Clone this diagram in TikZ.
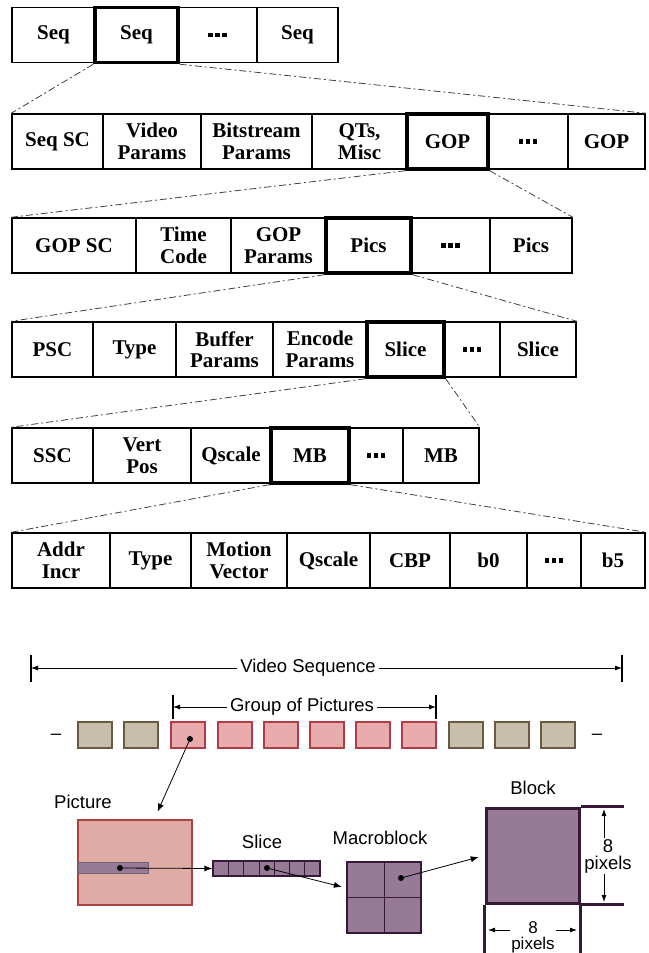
\documentclass[tikz,border=0pt]{standalone}
\usepackage{fontspec}
\setmainfont{Liberation Serif}
\setsansfont{Liberation Sans}
\usepackage{tikz}
\usetikzlibrary{arrows.meta, positioning, calc}
\definecolor{tanfill}{RGB}{200,190,172}
\definecolor{tandraw}{RGB}{105,90,65}
\definecolor{pinkfill}{RGB}{232,172,172}
\definecolor{pinkdraw}{RGB}{175,60,70}
\definecolor{picfill}{RGB}{222,172,165}
\definecolor{picdraw}{RGB}{175,65,65}
\definecolor{mbfill}{RGB}{150,122,150}
\definecolor{mbdraw}{RGB}{55,25,55}
\newcommand{\celldots}{\rule{4.5pt}{4.5pt}\hspace{2.5pt}\rule{4.5pt}{4.5pt}\hspace{2.5pt}\rule{4.5pt}{4.5pt}}
\tikzset{
  cell/.style={rectangle, draw=black, fill=white, line width=1.5pt,
    inner sep=0pt, minimum height=55pt, align=center,
    font=\fontsize{21}{21.5}\selectfont\bfseries},
  boldcell/.style={cell, line width=3.5pt},
  zoomline/.style={line width=0.8pt, color=black!75,
    dash pattern=on 7pt off 3pt on 2pt off 3pt},
  lbl/.style={font=\fontsize{18.5}{17}\selectfont\sffamily, inner sep=3pt},
  dimlbl/.style={lbl, fill=white, align=center, inner sep=1pt},
  dimbar/.style={line width=1.2pt, color=black},
  dimarrow/.style={-{Latex[length=7pt,width=5pt]}, line width=0.8pt},
  ptr/.style={-{Latex[length=8pt,width=6pt]}, line width=0.8pt},
  tanbox/.style={rectangle, fill=tanfill, draw=tandraw, line width=2pt,
    minimum width=34pt, minimum height=26pt, inner sep=0pt},
  pinkbox/.style={tanbox, fill=pinkfill, draw=pinkdraw},
  dot/.style={circle, fill=black, inner sep=0pt, minimum size=6pt},
  mbbox/.style={rectangle, fill=mbfill, draw=mbdraw, line width=2.5pt,
    inner sep=0pt}
}

\begin{document}
\begin{tikzpicture}[x=1pt, y=-1pt]
  \path[use as bounding box, fill=white] (0,0) rectangle (648,953);

  % ── Sequence layer ────────────────────────────────────────────────
  \node[cell, minimum width=83pt] (seqa)    at (53.5,35)  {Seq};
  \node[cell, minimum width=79pt] (seqdots) at (217.5,35) {\celldots};
  \node[cell, minimum width=81pt] (seqn)    at (297.5,35) {Seq};
  \node[boldcell, minimum width=83pt] (seqb) at (136.5,35) {Seq};

  % ── Sequence header layer ─────────────────────────────────────────
  \node[cell, minimum width=91pt]  (seqsc)   at (57.5,141.5)  {Seq SC};
  \node[cell, minimum width=98pt]  (vidpar)  at (152,141.5)   {Video\\Params};
  \node[cell, minimum width=111pt] (bitpar)  at (256.5,141.5) {Bitstream\\Params};
  \node[cell, minimum width=95pt]  (qtmisc)  at (359.5,141.5) {QTs,\\Misc};
  \node[cell, minimum width=80pt]  (gopdots) at (528,141.5)   {\celldots};
  \node[cell, minimum width=77pt]  (gopn)    at (606.5,141.5) {GOP};
  \node[boldcell, minimum width=81pt] (gop)  at (447.5,141.5) {GOP};
  \draw[zoomline] (seqb.south west) -- (seqsc.north west);
  \draw[zoomline] (seqb.south east) -- (gopn.north east);

  % ── GOP layer ─────────────────────────────────────────────────────
  \node[cell, minimum width=124pt] (gopsc)   at (74,245.5)    {GOP SC};
  \node[cell, minimum width=95pt]  (tcode)   at (183.5,245.5) {Time\\Code};
  \node[cell, minimum width=95pt]  (goppar)  at (278.5,245.5) {GOP\\Params};
  \node[cell, minimum width=79pt]  (picdots) at (450.5,245.5) {\celldots};
  \node[cell, minimum width=82pt]  (picn)    at (531,245.5)   {Pics};
  \node[boldcell, minimum width=85pt] (pics) at (368.5,245.5) {Pics};
  \draw[zoomline] (gop.south west) -- (gopsc.north west);
  \draw[zoomline] (gop.south east) -- (picn.north east);

  % ── Picture layer ─────────────────────────────────────────────────
  \node[cell, minimum width=81pt] (psc)     at (52.5,349.5)  {PSC};
  \node[cell, minimum width=83pt] (ptype)   at (134.5,349.5) {Type};
  \node[cell, minimum width=97pt] (bufpar)  at (224.5,349.5) {Buffer\\Params};
  \node[cell, minimum width=94pt] (encpar)  at (320,349.5)   {Encode\\Params};
  \node[cell, minimum width=56pt] (slcdots) at (472,349.5)   {\celldots};
  \node[cell, minimum width=76pt] (slcn)    at (538,349.5)   {Slice};
  \node[boldcell, minimum width=77pt] (slc) at (405.5,349.5) {Slice};
  \draw[zoomline] (pics.south west) -- (psc.north west);
  \draw[zoomline] (pics.south east) -- (slcn.north east);

  % ── Slice layer ───────────────────────────────────────────────────
  \node[cell, minimum width=81pt] (ssc)    at (52.5,455.5) {SSC};
  \node[cell, minimum width=98pt] (vpos)   at (142,455.5)  {Vert\\Pos};
  \node[cell, minimum width=80pt] (qsc)    at (231,455.5)  {Qscale};
  \node[cell, minimum width=54pt] (mbdots) at (376,455.5)  {\celldots};
  \node[cell, minimum width=76pt] (mbn)    at (441,455.5)  {MB};
  \node[boldcell, minimum width=78pt] (mb) at (310,455.5)  {MB};
  \draw[zoomline] (slc.south west) -- (ssc.north west);
  \draw[zoomline] (slc.south east) -- (mbn.north east);

  % ── Macroblock layer ──────────────────────────────────────────────
  \node[cell, minimum width=98pt] (addr)  at (61,560.5)    {Addr\\Incr};
  \node[cell, minimum width=81pt] (mtype) at (150.5,560.5) {Type};
  \node[cell, minimum width=96pt] (mvec)  at (239,560.5)   {Motion\\Vector};
  \node[cell, minimum width=83pt] (mqsc)  at (328.5,560.5) {Qscale};
  \node[cell, minimum width=80pt] (cbp)   at (410,560.5)   {CBP};
  \node[cell, minimum width=77pt] (bzero) at (488.5,560.5) {b0};
  \node[cell, minimum width=54pt] (bdots) at (554,560.5)   {\celldots};
  \node[cell, minimum width=64pt] (bfive) at (613,560.5)   {b5};
  \draw[zoomline] (mb.south west) -- (addr.north west);
  \draw[zoomline] (mb.south east) -- (bfive.north east);

  % ── Video sequence / GOP spans ────────────────────────────────────
  \draw[dimbar] (31,655) -- (31,682);
  \draw[dimbar] (622,655) -- (622,682);
  \coordinate (vsl) at (31,668);
  \coordinate (vsr) at (622,668);
  \node[lbl] (vseq) at (308,668) {Video Sequence};
  \draw[dimarrow] (vseq.west) -- (vsl);
  \draw[dimarrow] (vseq.east) -- (vsr);

  \draw[dimbar] (173,695) -- (173,719);
  \draw[dimbar] (436,695) -- (436,719);
  \coordinate (gpl) at (173,707);
  \coordinate (gpr) at (436,707);
  \node[lbl] (gpic) at (302,707) {Group of Pictures};
  \draw[dimarrow] (gpic.west) -- (gpl);
  \draw[dimarrow] (gpic.east) -- (gpr);

  % ── Picture stream ────────────────────────────────────────────────
  \node[lbl] (ldash) at (56,737)  {--};
  \node[tanbox]  (f1)  at (94.5,735)  {};
  \node[tanbox]  (f2)  at (141.3,735) {};
  \node[pinkbox] (f3)  at (188,735)   {};
  \node[pinkbox] (f4)  at (234.5,735) {};
  \node[pinkbox] (f5)  at (280.7,735) {};
  \node[pinkbox] (f6)  at (326.9,735) {};
  \node[pinkbox] (f7)  at (373.1,735) {};
  \node[pinkbox] (f8)  at (419.3,735) {};
  \node[tanbox]  (f9)  at (465.5,735) {};
  \node[tanbox]  (f10) at (511.7,735) {};
  \node[tanbox]  (f11) at (557.9,735) {};
  \node[lbl] (rdash) at (597,737) {--};
  \node[dot] (gdot) at (190,739) {};

  % ── Picture ───────────────────────────────────────────────────────
  \node[lbl] (piclbl) at (83,802) {Picture};
  \node[rectangle, fill=picfill, draw=picdraw, line width=2pt,
    minimum width=114pt, minimum height=85pt, inner sep=0pt]
    (pic) at (135,862.5) {};
  \node[rectangle, fill=mbfill, draw=mbdraw!70, line width=0.6pt,
    minimum width=70pt, minimum height=11pt, inner sep=0pt]
    (pstrip) at (113,867.5) {};
  \node[dot] (pdot) at (120,868) {};
  \draw[ptr, shorten >=8pt] (gdot) -- (pic);

  % ── Slice ─────────────────────────────────────────────────────────
  \node[lbl] (slclbl) at (262,842) {Slice};
  \node[rectangle, fill=mbfill, draw=mbdraw, line width=1.2pt,
    minimum width=107pt, minimum height=15pt, inner sep=0pt]
    (slice) at (266.5,868.5) {};
  \draw[color=mbdraw, line width=0.6pt]
    (228.3,861) -- (228.3,876) (243.6,861) -- (243.6,876)
    (258.9,861) -- (258.9,876) (274.1,861) -- (274.1,876)
    (289.4,861) -- (289.4,876) (304.7,861) -- (304.7,876);
  \node[dot] (sdot) at (267,868) {};
  \draw[ptr] (pdot) -- (slice.west);

  % ── Macroblock ────────────────────────────────────────────────────
  \node[lbl] (mblbl) at (380,838) {Macroblock};
  \node[mbbox, minimum width=74pt, minimum height=71pt]
    (mblk) at (384,897.5) {};
  \draw[color=mbdraw, line width=1pt] (mblk.north) -- (mblk.south);
  \draw[color=mbdraw, line width=1pt] (mblk.west) -- (mblk.east);
  \node[dot] (mdot) at (401,878) {};
  \draw[ptr, shorten >=4pt] (sdot) -- (mblk);

  % ── Block ─────────────────────────────────────────────────────────
  \node[lbl] (blklbl) at (533,788) {Block};
  \node[mbbox, line width=3pt, minimum width=93pt, minimum height=95pt]
    (blk) at (532.5,855.5) {};
  \draw[ptr, shorten >=6pt] (mdot) -- (blk.west);
  \draw[color=mbdraw, line width=3pt] (blk.south west) -- ++(0,52);
  \draw[color=mbdraw, line width=3pt] (blk.south east) -- ++(0,52);
  \draw[color=mbdraw, line width=3pt] (blk.north east) -- ++(43,0);
  \draw[color=mbdraw, line width=3pt] (blk.south east) -- ++(43,0);
  % 8 pixels, vertical
  \coordinate (vtop) at (604,809);
  \coordinate (vbot) at (604,902);
  \node[dimlbl, font=\fontsize{18.5}{17}\selectfont\sffamily]
    (vdim) at (608,856) {8\\pixels};
  \draw[dimarrow] (vtop |- vdim.north) -- (vtop);
  \draw[dimarrow] (vbot |- vdim.south) -- (vbot);
  % 8 pixels, horizontal
  \coordinate (hl) at (488,930);
  \coordinate (hr) at (577,930);
  \node[dimlbl, font=\fontsize{17}{16}\selectfont\sffamily]
    (hdim) at (533,937) {8\\pixels};
  \draw[dimarrow] (hdim.west |- hl) -- (hl);
  \draw[dimarrow] (hdim.east |- hr) -- (hr);
\end{tikzpicture}
\end{document}
